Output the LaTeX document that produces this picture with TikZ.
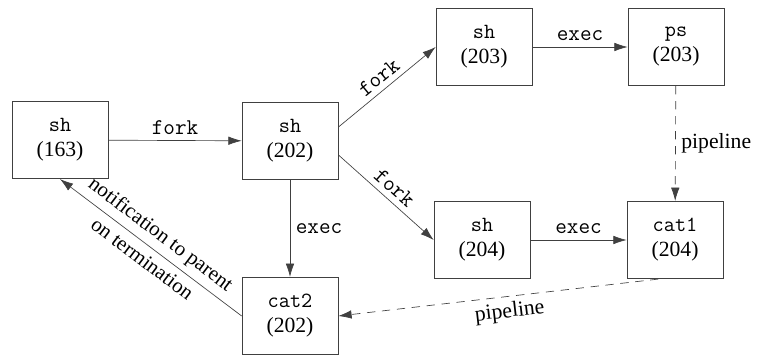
\documentclass[tikz,border=0pt]{standalone}
\usepackage{fontspec}
\setmainfont{Liberation Serif}
\usetikzlibrary{arrows.meta}

\begin{document}
\begin{tikzpicture}[x=0.6pt,y=-0.6pt,
        proc/.style={draw=black!75,minimum width=57.6pt,minimum height=46.5pt,align=center,
            font=\fontsize{13}{15}\selectfont},
        call/.style={draw=black!75,-{Latex[length=2.8mm,width=1.8mm]},font=\fontsize{13.5}{15}\ttfamily},
        pipe/.style={call,dash pattern=on 5pt off 4pt,font=\fontsize{13}{15}\selectfont}]
            \useasboundingbox (0,0) rectangle (758,356);

            \node[proc] (sh163) at (60,140) {\texttt{sh}\\(163)};
            \node[proc] (sh202) at (290,141) {\texttt{sh}\\(202)};
            \node[proc] (sh203) at (484,47) {\texttt{sh}\\(203)};
            \node[proc] (ps203) at (676,47) {\texttt{ps}\\(203)};
            \node[proc] (sh204) at (482,240) {\texttt{sh}\\(204)};
            \node[proc] (cat1) at (675,240) {\texttt{cat1}\\(204)};
            \node[proc] (cat2) at (290,316) {\texttt{cat2}\\(202)};

            \draw[call] (sh163) -- (sh202) node[midway,above] {fork};
            \draw[call] (sh202.16) -- (sh203.west) node[midway,sloped,above] {fork};
            \draw[call] (sh202.-16) -- (sh204.west) node[midway,sloped,above] {fork};
            \draw[call] (sh203) -- (ps203) node[midway,above] {exec};
            \draw[call] (sh204) -- (cat1) node[midway,above] {exec};
            \draw[call] (sh202) -- (cat2) node[midway,right] {exec};

            \draw[pipe] (ps203) -- (cat1) node[midway,right] {pipeline};
            \draw[pipe] (cat1.-113) -- (cat2.east) node[pos=0.47,sloped,below] {pipeline};

            \draw[call] (cat2.west) -- (sh163.south)
                node[midway,sloped,above,font=\fontsize{12.5}{14}\selectfont] {notification to parent}
                node[midway,sloped,below,inner sep=4pt,font=\fontsize{12.5}{14}\selectfont] {on termination};
        \end{tikzpicture}
\end{document}
